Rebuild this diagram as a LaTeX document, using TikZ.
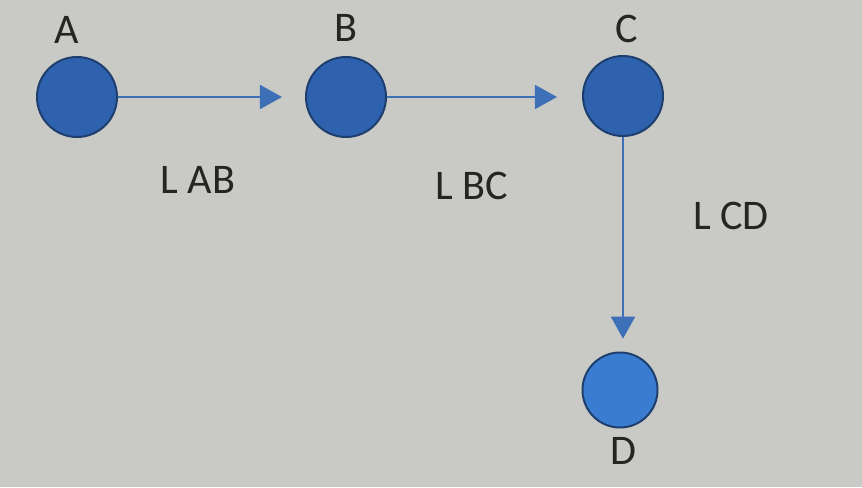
\documentclass[tikz,border=0pt]{standalone}
\usepackage{fontspec}
\setmainfont{Carlito}
\usetikzlibrary{arrows.meta}

\definecolor{screen}{HTML}{C9C9C5}
\definecolor{dotfill}{HTML}{2E62AE}
\definecolor{dotlight}{HTML}{3A7CCF}
\definecolor{dotedge}{HTML}{1E3E6E}
\definecolor{linkblue}{HTML}{3D70B6}
\definecolor{inktext}{HTML}{252525}

\tikzset{
  dot/.style={circle, draw=dotedge, line width=1.4pt, fill=dotfill, minimum size=2cm, inner sep=0pt},
  link/.style={draw=linkblue, line width=1.2pt, -{Triangle[width=0.6cm, length=0.55cm]}},
  tag/.style={text=inktext, font=\fontsize{30}{30}\selectfont, inner sep=0pt}
}

\begin{document}
\begin{tikzpicture}[x=0.025cm, y=-0.025cm]
  \fill[screen] (0,0) rectangle (862,487);
  \useasboundingbox (0,0) rectangle (862,487);

  \node[dot] (a) at (77,97) {};
  \node[dot] (b) at (346,97) {};
  \node[dot] (c) at (623,96) {};
  \node[dot, fill=dotlight, minimum size=1.875cm] (d) at (620,390) {};

  \node[tag] (na) at (67,30) {A};
  \node[tag] (nb) at (346,28) {B};
  \node[tag] (nc) at (627,29) {C};
  \node[tag] (nd) at (623,451) {D};

  \draw[link, shorten >=0.575cm] (a) -- (b);
  \draw[link, shorten >=0.625cm] (b) -- (b -| c.west);
  \draw[link, shorten >=0.32cm] (c) -- (c |- d.north);

  \node[tag] (lab) at (198,180) {L AB};
  \node[tag] (lbc) at (472,186) {L BC};
  \node[tag] (lcd) at (731,216) {L CD};
\end{tikzpicture}
\end{document}
